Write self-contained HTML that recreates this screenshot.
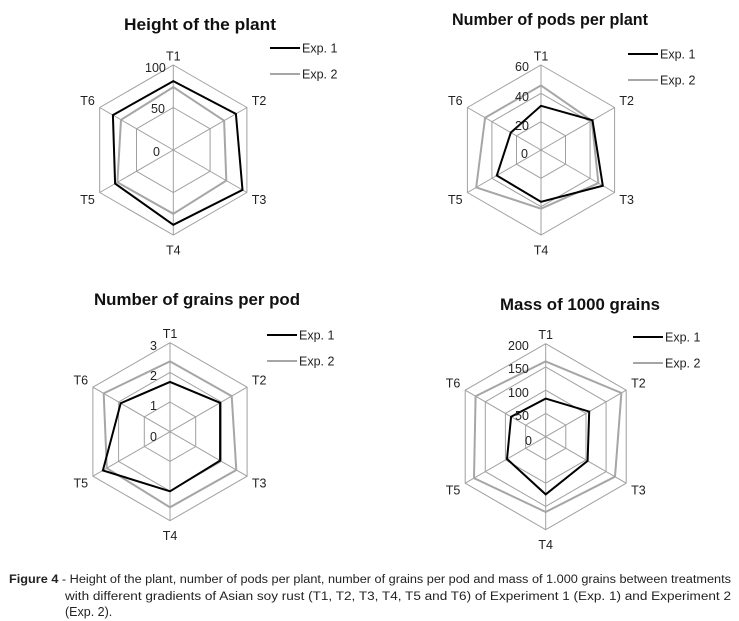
<!DOCTYPE html>
<html><head><meta charset="utf-8">
<style>
body{margin:0;background:#fff;width:739px;height:621px;overflow:hidden;font-family:"Liberation Sans",sans-serif;}
svg{position:absolute;left:0;top:0}
</style></head><body>
<svg id="s" width="739" height="621" xmlns="http://www.w3.org/2000/svg" font-family="Liberation Sans, sans-serif"></svg>
<script>
const charts=[
{cx:173.3,cy:150,r:85,rings:2,title:"Height of the plant",tx:200,ty:30,tw:152,
 b:[.81,.85,.94,.88,.79,.82],g:[.74,.69,.72,.75,.76,.71],
 lx:270,ly:48,scale:[["100",145,72],["50",151,113],["0",153,156]]},
{cx:541,cy:150,r:85,rings:3,title:"Number of pods per plant",tx:550,ty:25,tw:196,
 b:[.52,.70,.84,.61,.60,.41],g:[.76,.69,.78,.69,.88,.76],
 lx:628,ly:54,scale:[["60",515,71],["40",515,101],["20",515,130],["0",521,158]]},
{cx:170,cy:431.7,r:89,rings:3,title:"Number of grains per pod",tx:197,ty:305,tw:206,
 b:[.56,.65,.65,.67,.87,.64],g:[.79,.80,.86,.85,.82,.86],
 lx:267,ly:335,scale:[["3",150,350],["2",150,380],["1",150,410],["0",150,441]]},
{cx:545.7,cy:436.7,r:93,rings:4,title:"Mass of 1000 grains",tx:580,ty:310,tw:160,
 b:[.41,.54,.52,.62,.48,.43],g:[.81,.94,.86,.81,.89,.87],
 lx:633,ly:337,scale:[["200",508,350],["150",508,373],["100",508,397],["50",515,420],["0",525,445]]}
];
let h="";
const ang=i=>(-90+60*i)*Math.PI/180;
const pt=(c,f,i)=>[(c.cx+c.r*f*Math.cos(ang(i))).toFixed(1),(c.cy+c.r*f*Math.sin(ang(i))).toFixed(1)];
const poly=(c,fs,st,w)=>`<polygon points="${fs.map((f,i)=>pt(c,f,i).join(",")).join(" ")}" fill="none" stroke="${st}" stroke-width="${w}" stroke-linejoin="miter"/>`;
charts.forEach(c=>{
 for(let k=1;k<=c.rings;k++)h+=poly(c,Array(6).fill(k/c.rings),"#a0a0a0",1);
 for(let i=0;i<6;i++){const p=pt(c,1,i);h+=`<line x1="${c.cx}" y1="${c.cy}" x2="${p[0]}" y2="${p[1]}" stroke="#a0a0a0" stroke-width="1"/>`;}
 h+=poly(c,c.g,"#a6a6a6",2);
 h+=poly(c,c.b,"#000",2);
 h+=`<text x="${c.tx-c.tw/2}" y="${c.ty}" font-size="17" font-weight="bold" textLength="${c.tw}" lengthAdjust="spacingAndGlyphs" fill="#111">${c.title}</text>`;
 const lab=["T1","T2","T3","T4","T5","T6"];
 for(let i=0;i<6;i++){const d=c.r+14;let x=c.cx+d*Math.cos(ang(i)),y=c.cy+d*Math.sin(ang(i));
  if(i==0)y=c.cy-c.r-9; if(i==3)y=c.cy+c.r+15;
  h+=`<text x="${x.toFixed(1)}" y="${(y+4.5).toFixed(1)}" font-size="12.5" text-anchor="middle" fill="#222">${lab[i]}</text>`;}
 c.scale.forEach(s=>h+=`<text x="${s[1]}" y="${s[2]}" font-size="12.5" fill="#222">${s[0]}</text>`);
 h+=`<line x1="${c.lx}" y1="${c.ly}" x2="${c.lx+30}" y2="${c.ly}" stroke="#000" stroke-width="2"/>`;
 h+=`<line x1="${c.lx}" y1="${c.ly+26}" x2="${c.lx+30}" y2="${c.ly+26}" stroke="#a6a6a6" stroke-width="2"/>`;
 h+=`<text x="${c.lx+32}" y="${c.ly+4.5}" font-size="12.5" fill="#222">Exp. 1</text>`;
 h+=`<text x="${c.lx+32}" y="${c.ly+30.5}" font-size="12.5" fill="#222">Exp. 2</text>`;
});
h+=`<text x="9" y="583" font-size="11.5" fill="#222" textLength="722" lengthAdjust="spacingAndGlyphs"><tspan font-weight="bold">Figure 4</tspan> - Height of the plant, number of pods per plant, number of grains per pod and mass of 1.000 grains between treatments</text>`;
h+=`<text x="65" y="600" font-size="11.5" fill="#222" textLength="666" lengthAdjust="spacingAndGlyphs">with different gradients of Asian soy rust (T1, T2, T3, T4, T5 and T6) of Experiment 1 (Exp. 1) and Experiment 2</text>`;
h+=`<text x="65" y="616" font-size="12.5" fill="#222">(Exp. 2).</text>`;
document.getElementById("s").innerHTML=h;
</script>
</body></html>
